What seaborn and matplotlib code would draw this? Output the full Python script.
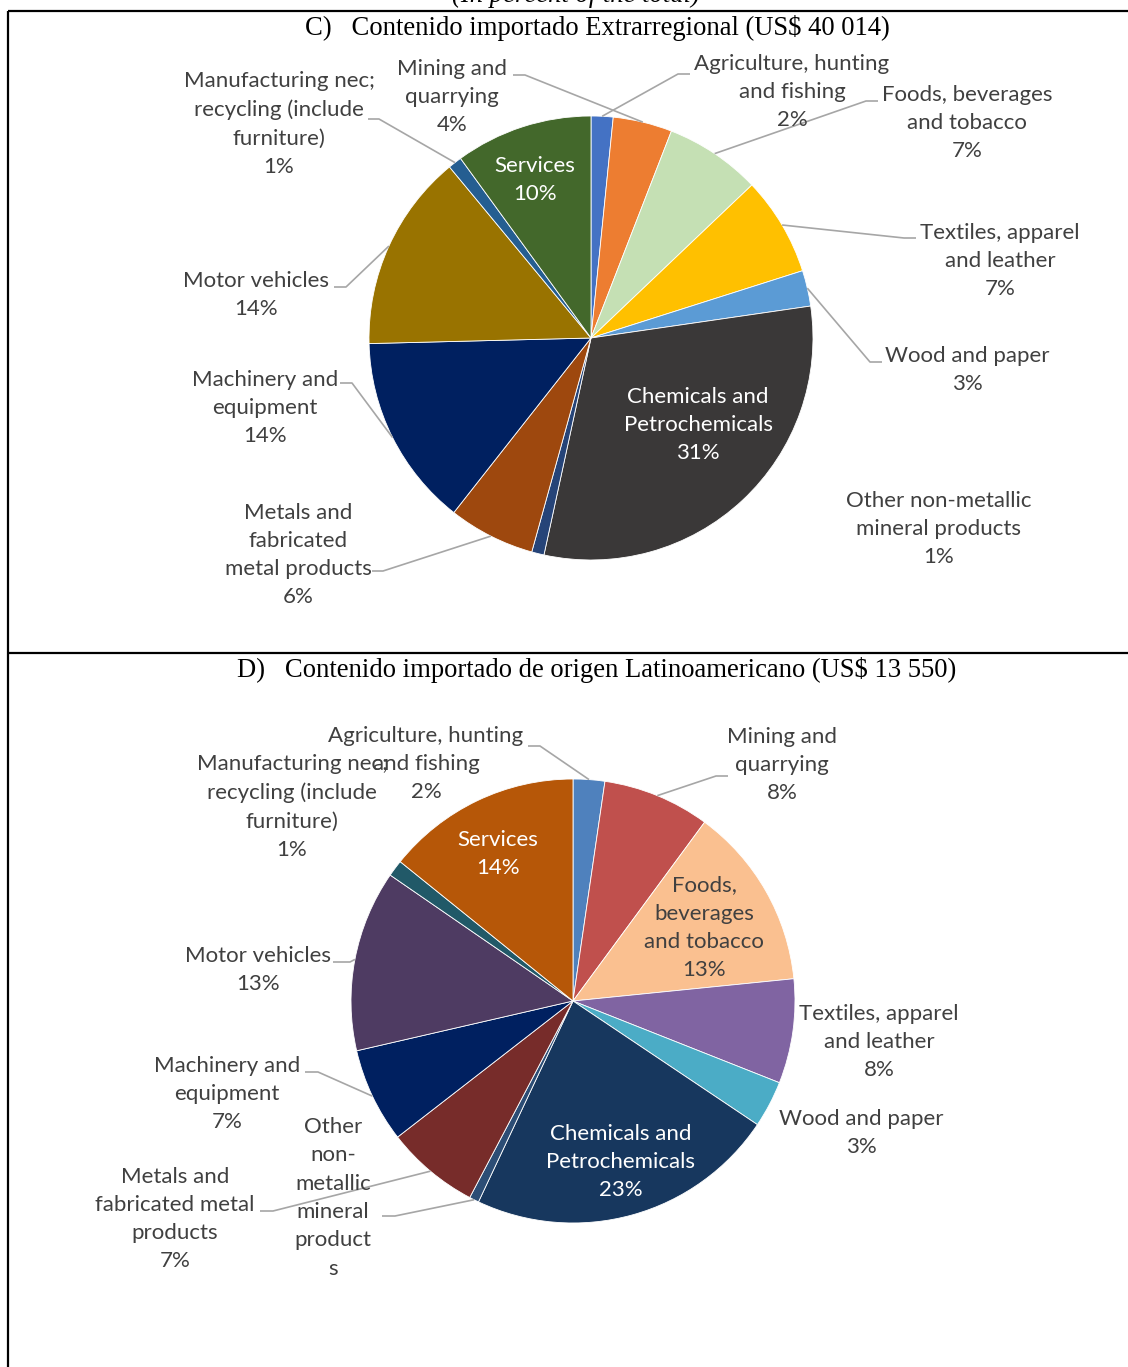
import matplotlib
matplotlib.use("Agg")
import matplotlib.pyplot as plt
import seaborn as sns
import numpy as np
from matplotlib.transforms import Bbox, TransformedBbox

sns.set_style("white")
plt.rcParams["font.family"] = ["Lato", "DejaVu Sans"]

W, H = 1128, 1367

# ---- data -------------------------------------------------------------
sectors = [
    "Agriculture, hunting and fishing",
    "Mining and quarrying",
    "Foods, beverages and tobacco",
    "Textiles, apparel and leather",
    "Wood and paper",
    "Chemicals and Petrochemicals",
    "Other non-metallic mineral products",
    "Metals and fabricated metal products",
    "Machinery and equipment",
    "Motor vehicles",
    "Manufacturing nec; recycling (include furniture)",
    "Services",
]

extra_values = [1.6, 4.3, 7.0, 7.2, 2.6, 30.7, 0.9, 6.3, 14.0, 14.4, 1.0, 10.0]
latam_values = [2.3, 7.8, 13.3, 7.6, 3.4, 22.6, 0.7, 6.8, 6.9, 13.2, 1.2, 14.2]

extra_colors = ["#4472C4", "#ED7D31", "#C5E0B4", "#FFC000", "#5B9BD5", "#3A3838",
                "#264478", "#9E480E", "#002060", "#997300", "#255E91", "#43682B"]
latam_colors = ["#4F81BD", "#C0504D", "#FAC090", "#8064A2", "#4BACC6", "#17375E",
                "#2C4D75", "#772C2A", "#002060", "#4E3B62", "#215968", "#B65708"]

extra_names = [
    "Agriculture, hunting\nand fishing",
    "Mining and\nquarrying",
    "Foods, beverages\nand tobacco",
    "Textiles, apparel\nand leather",
    "Wood and paper",
    "Chemicals and\nPetrochemicals",
    "Other non-metallic\nmineral products",
    "Metals and\nfabricated\nmetal products",
    "Machinery and\nequipment",
    "Motor vehicles",
    "Manufacturing nec;\nrecycling (include\nfurniture)",
    "Services",
]
latam_names = [
    "Agriculture, hunting\nand fishing",
    "Mining and\nquarrying",
    "Foods,\nbeverages\nand tobacco",
    "Textiles, apparel\nand leather",
    "Wood and paper",
    "Chemicals and\nPetrochemicals",
    "Other\nnon-\nmetallic\nmineral\nproduct\ns",
    "Metals and\nfabricated metal\nproducts",
    "Machinery and\nequipment",
    "Motor vehicles",
    "Manufacturing nec;\nrecycling (include\nfurniture)",
    "Services",
]

title_extra = "C)   Contenido importado Extrarregional (US$ 40 014)"
title_latam = "D)   Contenido importado de origen Latinoamericano (US$ 13 550)"
subtitle = "(In percent of the total)"

# ---- layout (pixel coordinates, y measured from the top) ---------------
# per label: text centre (x, y), text colour, optional leader stub (x_start, x_end, y)
GRAY = "#404040"
extra_layout = [
    ((792, 92), GRAY, (690, 678, 74)),
    ((452, 97), GRAY, (513, 525, 75)),
    ((967, 123), GRAY, (878, 866, 101)),
    ((1000, 261), GRAY, (916, 904, 238)),
    ((967, 370), GRAY, (882, 870, 362)),
    ((698, 425), "white", None),
    ((939, 529), GRAY, None),
    ((298, 555), GRAY, (372, 383, 571)),
    ((265, 408), GRAY, (340, 352, 383)),
    ((256, 295), GRAY, (334, 346, 287)),
    ((279, 124), GRAY, (368, 379, 119)),
    ((535, 180), "white", None),
]
latam_layout = [
    ((426, 764), GRAY, (528, 540, 746)),
    ((782, 765), GRAY, (728, 716, 776)),
    ((704, 928), GRAY, None),
    ((879, 1042), GRAY, None),
    ((861, 1133), GRAY, None),
    ((621, 1162), "white", None),
    ((333, 1212), GRAY, (382, 395, 1216)),
    ((175, 1219), GRAY, (260, 273, 1211)),
    ((227, 1094), GRAY, (305, 318, 1072)),
    ((258, 970), GRAY, (333, 350, 962)),
    ((292, 807), GRAY, None),
    ((498, 854), "white", None),
]

FS = 16.0
LS = 1.52


def Y(y_px):
    return H - y_px


fig = plt.figure(figsize=(W / 100, H / 100), dpi=100)
ax = fig.add_axes([0, 0, 1, 1])
ax.set_xlim(0, W)
ax.set_ylim(0, H)


def draw_pie(values, colors, names, layout, center, radius, clip_bottom=None):
    cx, cy = center
    pal = sns.color_palette(colors)
    ax.pie(values, colors=pal, startangle=90, counterclock=False,
           center=(cx, Y(cy)), radius=radius,
           wedgeprops=dict(edgecolor="white", linewidth=0.6))
    ax.set_xlim(0, W)
    ax.set_ylim(0, H)
    total = float(sum(values))
    cum = np.cumsum([0] + list(values))[:-1]
    for v, c0, name, (pos, col, stub) in zip(values, cum, names, layout):
        label = f"{name}\n{v:.0f}%"
        t = ax.text(pos[0], Y(pos[1]), label, ha="center", va="center",
                    fontsize=FS, color=col, linespacing=LS, zorder=5)
        if clip_bottom is not None and name.count("\n") > 4:
            # the label box of this narrow label is cut at its bottom edge
            box = TransformedBbox(Bbox.from_extents(0, Y(clip_bottom), W, H),
                                  ax.transData)
            t.set_clip_box(box)
            t.set_clip_on(True)
        if stub is not None:
            theta = np.deg2rad(360.0 * (c0 + v / 2.0) / total)
            ex = cx + radius * np.sin(theta)
            ey = Y(cy) + radius * np.cos(theta)
            xs, xe, ys = stub
            ax.plot([xs, xe, ex], [Y(ys), Y(ys), ey], color="#A6A6A6",
                    lw=1.2, zorder=4, solid_capstyle="butt")


draw_pie(extra_values, extra_colors, extra_names, extra_layout, (591, 338), 222)
draw_pie(latam_values, latam_colors, latam_names, latam_layout, (573, 1001), 222,
         clip_bottom=1288)

# titles
serif = ["Liberation Serif", "DejaVu Serif"]
ax.text(597, Y(28), title_extra, ha="center", va="center", fontsize=19.2,
        family=serif, color="black")
ax.text(597, Y(670), title_latam, ha="center", va="center", fontsize=19.2,
        family=serif, color="black")
ax.text(576, Y(2), subtitle, ha="center", va="baseline", fontsize=19.2,
        family=serif, style="italic", color="black")

# frame lines of the panels
ax.plot([8, W], [Y(11), Y(11)], color="black", lw=1.6, solid_capstyle="butt")
ax.plot([8, W], [Y(653), Y(653)], color="black", lw=1.6, solid_capstyle="butt")
ax.plot([8, 8], [Y(11), 0], color="black", lw=1.6, solid_capstyle="butt")

ax.set_xlim(0, W)
ax.set_ylim(0, H)
ax.set_aspect("auto")
ax.axis("off")

fig.savefig("out.png", dpi=100, facecolor="white")
